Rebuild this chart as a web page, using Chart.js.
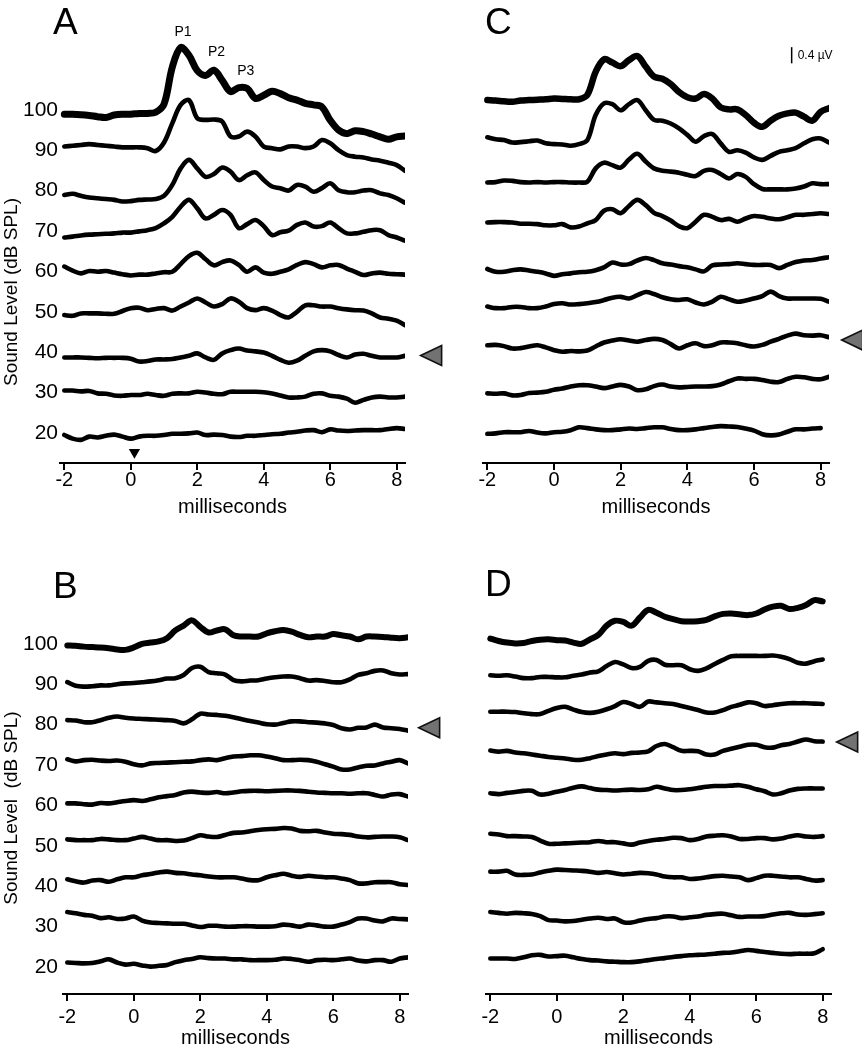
<!DOCTYPE html>
<html lang="en">
<head>
<meta charset="UTF-8">
<title>ABR traces</title>
<script src="https://cdn.jsdelivr.net/npm/chart.js"></script>
<style>
  body { margin: 0; background: #fff; }
  #wrap { position: relative; width: 862px; height: 1050px; overflow: hidden; }
  canvas { position: absolute; }
</style>
</head>
<body>
<div id="wrap">
  <canvas id="chartA" width="450" height="525" style="left:0;top:0"></canvas>
  <canvas id="chartB" width="450" height="525" style="left:0;top:525px"></canvas>
  <canvas id="chartC" width="431" height="525" style="left:431px;top:0"></canvas>
  <canvas id="chartD" width="431" height="525" style="left:431px;top:525px"></canvas>
</div>
<script>
// time axis (ms) shared by all traces
const times = [-2, -1.75, -1.5, -1.25, -1, -0.75, -0.5, -0.25,
  0, 0.25, 0.5, 0.75, 1, 1.25, 1.5, 1.75,
  2, 2.25, 2.5, 2.75, 3, 3.25, 3.5, 3.75,
  4, 4.25, 4.5, 4.75, 5, 5.25, 5.5, 5.75,
  6, 6.25, 6.5, 6.75, 7, 7.25, 7.5, 7.75,
  8, 8.25];
const xTicks = [-2, 0, 2, 4, 6, 8];
// sound levels, bottom trace first
const levels = ['20', '30', '40', '50', '60', '70', '80', '90', '100'];
// threshold level marked by the grey arrow
const thresholdA = '40', thresholdB = '80', thresholdC = '40', thresholdD = '70';
const peakNames = ['P1', 'P2', 'P3'];
const peakTimes = [1.57, 2.58, 3.46];
const stimulusTime = 0.11;
const scaleBarUV = 0.4;

// traces in uV, relative to each level's baseline
const a100 = [-0.11,-0.11,-0.12,-0.14,-0.17,-0.19,-0.13,-0.11,
  -0.11,-0.09,-0.09,-0.06,0.14,1.06,1.54,1.35,
  0.97,0.85,0.98,0.73,0.45,0.55,0.53,0.28,
  0.36,0.46,0.40,0.30,0.24,0.16,0.12,0.07,
  -0.26,-0.50,-0.59,-0.52,-0.54,-0.60,-0.67,-0.73,
  -0.67,-0.65];
const a90 = [0.09,0.11,0.13,0.15,0.13,0.11,0.09,0.07,
  0.07,0.07,0.05,-0.02,0.19,0.67,1.12,1.24,
  0.79,0.75,0.76,0.71,0.34,0.34,0.46,0.34,
  0.09,0.05,0.02,0.09,0.09,0.05,0.09,0.25,
  0.17,0.0,-0.12,-0.16,-0.18,-0.23,-0.26,-0.31,
  -0.37,-0.51];
const a80 = [-0.11,-0.08,-0.13,-0.17,-0.19,-0.21,-0.23,-0.27,
  -0.26,-0.23,-0.22,-0.21,-0.13,0.14,0.55,0.76,
  0.55,0.34,0.41,0.57,0.47,0.26,0.38,0.45,
  0.26,0.10,0.06,0.0,0.14,0.10,-0.03,0.06,
  0.18,0.01,-0.04,-0.04,0.0,0.01,-0.07,-0.11,
  -0.19,-0.30];
const a70 = [-0.16,-0.14,-0.11,-0.09,-0.08,-0.07,-0.06,-0.04,
  -0.04,-0.01,0.02,0.07,0.19,0.35,0.60,0.77,
  0.56,0.31,0.40,0.52,0.40,0.07,0.17,0.27,
  0.12,-0.10,-0.03,0.01,0.15,0.21,0.11,0.12,
  0.21,0.07,-0.06,-0.06,-0.02,0.02,0.02,-0.10,
  -0.16,-0.24];
const a60 = [0.12,0.02,-0.05,0.01,-0.01,0.01,-0.03,-0.07,
  -0.10,-0.08,-0.08,-0.05,-0.02,-0.01,0.18,0.38,
  0.46,0.30,0.15,0.23,0.27,0.16,-0.01,0.10,
  -0.03,-0.06,-0.01,0.05,0.16,0.23,0.18,0.10,
  0.15,0.16,0.07,-0.01,-0.09,-0.05,-0.03,-0.06,
  -0.07,-0.08];
const a50 = [-0.08,-0.10,-0.04,-0.04,-0.04,-0.05,-0.05,0.02,
  0.09,0.10,0.04,0.07,0.09,0.03,0.13,0.23,
  0.33,0.23,0.13,0.19,0.33,0.25,0.09,0.04,
  0.09,0.03,-0.08,-0.14,0.0,0.16,0.16,0.13,
  0.13,0.09,0.06,0.04,0.03,-0.04,-0.14,-0.17,
  -0.22,-0.33];
const a40 = [-0.13,-0.13,-0.13,-0.14,-0.15,-0.14,-0.14,-0.14,
  -0.16,-0.23,-0.22,-0.18,-0.18,-0.17,-0.13,-0.09,
  -0.03,-0.13,-0.19,-0.03,0.05,0.09,0.04,0.02,
  -0.01,-0.09,-0.19,-0.26,-0.21,-0.09,0.02,0.05,
  0.02,-0.07,-0.13,-0.06,-0.04,-0.09,-0.13,-0.13,
  -0.13,-0.09];
const a30 = [0.05,0.05,0.03,0.04,-0.02,-0.03,-0.07,-0.08,
  -0.06,-0.06,-0.03,-0.06,-0.08,-0.03,-0.02,-0.02,
  0.02,0.0,-0.03,-0.04,0.02,0.02,0.02,0.02,
  0.01,-0.02,-0.07,-0.12,-0.12,-0.10,-0.03,-0.02,
  -0.08,-0.10,-0.15,-0.25,-0.18,-0.12,-0.10,-0.12,
  -0.12,-0.10];
const a20 = [-0.05,-0.14,-0.17,-0.09,-0.11,-0.07,-0.04,-0.09,
  -0.14,-0.09,-0.07,-0.07,-0.05,-0.02,-0.02,-0.01,
  0.01,-0.05,-0.04,-0.05,-0.09,-0.10,-0.07,-0.07,
  -0.05,-0.03,-0.02,0.01,0.03,0.06,0.07,0.02,
  0.09,0.06,0.05,0.06,0.07,0.07,0.07,0.10,
  0.12,0.10];

const c100 = [0.24,0.23,0.21,0.20,0.23,0.24,0.25,0.26,
  0.28,0.27,0.26,0.26,0.37,0.94,1.25,1.17,
  1.08,1.23,1.33,1.07,0.82,0.77,0.64,0.44,
  0.31,0.28,0.39,0.28,0.06,0.01,0.01,-0.13,
  -0.32,-0.42,-0.27,-0.15,-0.09,-0.07,-0.17,-0.27,
  -0.05,0.04];
const c90 = [0.32,0.27,0.25,0.19,0.20,0.22,0.24,0.17,
  0.15,0.14,0.11,0.15,0.25,0.87,1.16,1.14,
  0.99,1.14,1.24,0.99,0.75,0.73,0.66,0.54,
  0.38,0.21,0.35,0.40,0.17,-0.04,0.0,-0.06,
  -0.18,-0.24,-0.14,-0.04,0.0,0.05,0.17,0.27,
  0.29,0.19];
const c80 = [0.20,0.21,0.25,0.24,0.21,0.20,0.21,0.20,
  0.21,0.21,0.20,0.20,0.22,0.55,0.69,0.63,
  0.57,0.77,0.91,0.72,0.55,0.49,0.47,0.44,
  0.39,0.36,0.49,0.51,0.41,0.30,0.41,0.34,
  0.16,0.04,0.03,0.03,0.03,0.05,0.10,0.18,
  0.16,0.16];
const c70 = [0.21,0.22,0.22,0.21,0.18,0.18,0.17,0.14,
  0.14,0.17,0.09,0.11,0.19,0.27,0.50,0.54,
  0.44,0.62,0.77,0.64,0.45,0.37,0.26,0.12,
  0.07,0.23,0.40,0.35,0.27,0.30,0.23,0.31,
  0.37,0.35,0.31,0.29,0.34,0.40,0.40,0.42,
  0.44,0.42];
const c60 = [0.06,-0.01,-0.01,0.03,0.05,0.02,-0.01,-0.05,
  -0.11,-0.07,-0.05,-0.02,-0.01,0.03,0.10,0.22,
  0.17,0.18,0.27,0.33,0.28,0.20,0.17,0.13,
  0.10,0.05,0.0,0.15,0.17,0.18,0.20,0.18,
  0.16,0.16,0.16,0.08,0.16,0.23,0.27,0.28,
  0.32,0.35];
const c50 = [0.13,0.09,0.09,0.12,0.12,0.09,0.09,0.13,
  0.19,0.21,0.18,0.19,0.21,0.24,0.29,0.35,
  0.37,0.33,0.41,0.49,0.44,0.36,0.31,0.29,
  0.31,0.23,0.18,0.25,0.37,0.31,0.25,0.28,
  0.33,0.39,0.50,0.39,0.33,0.33,0.33,0.33,
  0.32,0.25];
const c40 = [0.17,0.18,0.15,0.09,0.10,0.14,0.17,0.12,
  0.05,0.01,0.03,0.02,0.04,0.14,0.24,0.29,
  0.32,0.29,0.26,0.30,0.33,0.30,0.20,0.09,
  0.17,0.22,0.15,0.17,0.24,0.24,0.22,0.17,
  0.14,0.18,0.26,0.33,0.41,0.46,0.42,0.41,
  0.42,0.37];
const c30 = [-0.02,-0.03,-0.02,-0.07,-0.06,-0.01,0.0,0.02,
  0.07,0.10,0.15,0.18,0.18,0.15,0.11,0.15,
  0.19,0.15,0.06,0.08,0.16,0.20,0.15,0.13,
  0.14,0.15,0.15,0.16,0.20,0.28,0.35,0.34,
  0.34,0.31,0.27,0.26,0.34,0.39,0.38,0.34,
  0.33,0.39];
const c20 = [-0.02,-0.01,0.02,0.02,0.02,0.05,0.01,-0.01,
  0.02,0.03,0.07,0.14,0.12,0.09,0.07,0.07,
  0.09,0.11,0.10,0.12,0.14,0.14,0.10,0.07,
  0.07,0.09,0.12,0.15,0.17,0.16,0.15,0.11,
  0.06,-0.03,-0.06,-0.04,0.03,0.09,0.09,0.11,
  0.12,null];

const b100 = [-0.04,-0.05,-0.07,-0.08,-0.09,-0.11,-0.14,-0.15,
  -0.09,0.0,0.03,0.06,0.14,0.33,0.45,0.58,
  0.42,0.28,0.33,0.36,0.21,0.18,0.18,0.18,
  0.26,0.31,0.34,0.30,0.22,0.16,0.18,0.18,
  0.24,0.21,0.18,0.11,0.18,0.18,0.17,0.15,
  0.14,0.16];
const b90 = [0.05,-0.04,-0.06,-0.05,-0.03,-0.03,0.0,0.02,
  0.03,0.05,0.07,0.10,0.14,0.15,0.23,0.40,
  0.43,0.30,0.27,0.24,0.10,0.07,0.09,0.10,
  0.14,0.17,0.19,0.19,0.15,0.09,0.10,0.08,
  0.05,0.05,0.12,0.23,0.27,0.33,0.34,0.27,
  0.24,0.25];
const b80 = [0.11,0.10,0.06,0.06,0.11,0.17,0.20,0.17,
  0.15,0.14,0.13,0.12,0.11,0.09,0.03,0.13,
  0.27,0.25,0.24,0.22,0.18,0.13,0.09,0.05,
  0.01,0.0,0.04,0.08,0.08,0.06,0.05,0.03,
  -0.01,-0.09,-0.12,-0.08,-0.07,0.0,-0.07,-0.09,
  -0.11,-0.15];
const b70 = [0.14,0.09,0.12,0.13,0.11,0.10,0.11,0.08,
  0.02,-0.01,0.04,0.05,0.06,0.07,0.08,0.09,
  0.12,0.14,0.12,0.17,0.21,0.22,0.24,0.24,
  0.21,0.17,0.12,0.12,0.13,0.12,0.08,0.02,
  -0.04,-0.11,-0.11,-0.06,-0.02,-0.01,0.04,0.08,
  0.12,0.04];
const b60 = [0.05,0.05,0.03,0.02,0.06,0.05,0.08,0.11,
  0.13,0.11,0.15,0.20,0.23,0.26,0.32,0.34,
  0.32,0.31,0.33,0.30,0.32,0.35,0.36,0.36,
  0.35,0.36,0.37,0.37,0.36,0.34,0.32,0.31,
  0.30,0.30,0.29,0.30,0.30,0.26,0.22,0.27,
  0.28,0.22];
const b50 = [0.16,0.14,0.14,0.14,0.17,0.16,0.14,0.14,
  0.18,0.22,0.18,0.14,0.14,0.12,0.13,0.19,
  0.26,0.23,0.22,0.27,0.32,0.33,0.36,0.39,
  0.41,0.42,0.44,0.43,0.37,0.36,0.37,0.33,
  0.30,0.29,0.27,0.23,0.21,0.22,0.23,0.23,
  0.21,0.14];
const b40 = [0.17,0.12,0.09,0.14,0.15,0.11,0.17,0.22,
  0.22,0.27,0.30,0.34,0.36,0.33,0.32,0.29,
  0.27,0.24,0.22,0.22,0.22,0.19,0.15,0.15,
  0.22,0.27,0.31,0.26,0.23,0.26,0.24,0.22,
  0.22,0.19,0.15,0.07,0.07,0.10,0.10,0.10,
  0.05,0.03];
const b30 = [0.36,0.33,0.29,0.27,0.21,0.23,0.19,0.20,
  0.25,0.15,0.10,0.09,0.08,0.07,0.07,0.03,
  -0.01,0.02,0.02,0.0,0.0,0.01,0.01,0.0,
  0.0,0.01,0.05,0.03,0.0,0.05,0.03,0.0,
  0.0,0.05,0.11,0.20,0.20,0.15,0.13,0.20,
  0.19,0.18];
const b20 = [0.11,0.10,0.09,0.10,0.14,0.19,0.11,0.06,
  0.08,0.04,0.01,0.03,0.05,0.12,0.17,0.20,
  0.24,0.22,0.21,0.21,0.19,0.19,0.17,0.17,
  0.17,0.18,0.21,0.20,0.17,0.13,0.17,0.18,
  0.17,0.19,0.21,0.16,0.14,0.17,0.17,0.13,
  0.21,0.24];

const d100 = [0.13,0.07,0.03,0.01,0.02,0.07,0.10,0.11,
  0.09,0.08,0.03,0.0,0.11,0.22,0.45,0.57,
  0.54,0.45,0.65,0.84,0.77,0.67,0.61,0.56,
  0.55,0.56,0.59,0.68,0.74,0.75,0.73,0.71,
  0.75,0.85,0.92,0.94,0.86,0.89,0.96,1.08,
  1.05,null];
const d90 = [0.22,0.21,0.22,0.19,0.15,0.15,0.18,0.18,
  0.17,0.17,0.21,0.24,0.29,0.32,0.45,0.55,
  0.49,0.40,0.43,0.58,0.60,0.48,0.47,0.47,
  0.37,0.33,0.39,0.50,0.60,0.69,0.70,0.70,
  0.70,0.70,0.71,0.68,0.62,0.53,0.51,0.57,
  0.61,null];
const d80 = [0.32,0.32,0.32,0.31,0.28,0.26,0.26,0.34,
  0.41,0.44,0.37,0.31,0.29,0.32,0.38,0.46,
  0.56,0.51,0.44,0.57,0.55,0.53,0.51,0.46,
  0.41,0.36,0.30,0.30,0.36,0.44,0.49,0.55,
  0.53,0.46,0.48,0.51,0.53,0.53,0.53,0.52,
  0.51,null];
const d70 = [0.36,0.33,0.35,0.31,0.29,0.26,0.23,0.20,
  0.18,0.16,0.13,0.13,0.17,0.22,0.26,0.29,
  0.27,0.30,0.31,0.34,0.47,0.52,0.44,0.35,
  0.35,0.34,0.26,0.26,0.35,0.40,0.45,0.50,
  0.50,0.44,0.43,0.49,0.52,0.58,0.63,0.59,
  0.58,null];
const d60 = [0.30,0.28,0.31,0.33,0.36,0.36,0.27,0.29,
  0.34,0.38,0.44,0.47,0.43,0.39,0.38,0.37,
  0.38,0.39,0.38,0.40,0.46,0.42,0.38,0.38,
  0.40,0.43,0.46,0.48,0.48,0.49,0.50,0.46,
  0.40,0.35,0.27,0.30,0.37,0.41,0.42,0.42,
  0.42,null];
const d50 = [0.30,0.28,0.24,0.24,0.23,0.22,0.13,0.05,
  0.05,0.06,0.07,0.08,0.09,0.12,0.09,0.09,
  0.06,0.03,0.08,0.12,0.15,0.17,0.20,0.19,
  0.14,0.17,0.23,0.25,0.26,0.23,0.17,0.17,
  0.19,0.19,0.16,0.18,0.23,0.26,0.23,0.22,
  0.24,null];
const d40 = [0.36,0.36,0.38,0.29,0.28,0.29,0.34,0.38,
  0.41,0.40,0.39,0.38,0.36,0.33,0.35,0.32,
  0.29,0.31,0.33,0.32,0.29,0.24,0.22,0.22,
  0.18,0.19,0.22,0.25,0.26,0.24,0.22,0.15,
  0.20,0.26,0.26,0.24,0.22,0.22,0.18,0.14,
  0.15,null];
const d30 = [0.36,0.34,0.32,0.34,0.33,0.31,0.26,0.16,
  0.15,0.13,0.14,0.17,0.20,0.22,0.19,0.20,
  0.11,0.10,0.15,0.19,0.21,0.25,0.25,0.21,
  0.23,0.25,0.29,0.31,0.32,0.28,0.24,0.25,
  0.25,0.26,0.30,0.33,0.34,0.30,0.29,0.31,
  0.33,null];
const d20 = [0.21,0.21,0.21,0.20,0.24,0.29,0.30,0.26,
  0.27,0.28,0.24,0.20,0.17,0.16,0.14,0.13,
  0.12,0.12,0.14,0.17,0.20,0.22,0.25,0.27,
  0.29,0.30,0.31,0.33,0.35,0.36,0.39,0.42,
  0.40,0.37,0.35,0.33,0.32,0.33,0.33,0.34,
  0.44,null];

const FONT = '"Liberation Sans", Arial, sans-serif';
Chart.defaults.font.family = FONT;
Chart.defaults.color = '#000';

// letters, axis title, peak names, scale bar label, threshold arrow
const panelText = {
  id: 'panelText',
  afterDraw(chart, args, o) {
    const ctx = chart.ctx;
    const xs = chart.scales.x, ys = chart.scales.y;
    ctx.save();
    ctx.fillStyle = '#000';
    ctx.font = '37px ' + FONT;
    ctx.textAlign = 'left';
    ctx.textBaseline = 'alphabetic';
    ctx.fillText(o.letter, o.letterX, o.letterY);
    if (o.yTitle) {
      ctx.save();
      ctx.translate(o.yTitleX, o.yTitleY);
      ctx.rotate(-Math.PI / 2);
      ctx.font = '19px ' + FONT;
      ctx.textAlign = 'center';
      ctx.textBaseline = 'middle';
      ctx.fillText(o.yTitle, 0, 0);
      ctx.restore();
    }
    if (o.peakY) {
      ctx.font = '14px ' + FONT;
      ctx.textAlign = 'center';
      ctx.textBaseline = 'middle';
      peakNames.forEach((n, i) => {
        ctx.fillText(n, xs.getPixelForValue(peakTimes[i]), ys.getPixelForValue(o.peakY[i]));
      });
    }
    if (o.bar) {
      ctx.font = '12px ' + FONT;
      ctx.textAlign = 'left';
      ctx.textBaseline = 'middle';
      ctx.fillText(scaleBarUV + ' µV', xs.getPixelForValue(o.bar.x) + 6,
        ys.getPixelForValue(o.bar.y + scaleBarUV / 2));
    }
    if (o.marker) {
      // left-pointing arrow, tip at the marker position
      const tx = xs.getPixelForValue(o.marker.x);
      const ty = ys.getPixelForValue(levels.indexOf(o.marker.level) + o.marker.nudge);
      ctx.beginPath();
      ctx.moveTo(tx, ty);
      ctx.lineTo(tx + 21, ty - 10);
      ctx.lineTo(tx + 21, ty + 10);
      ctx.closePath();
      ctx.fillStyle = '#727272';
      ctx.fill();
      ctx.lineWidth = 1.6;
      ctx.lineJoin = 'miter';
      ctx.strokeStyle = '#111';
      ctx.stroke();
    }
    ctx.restore();
  }
};

function makeChart(p) {
  const datasets = p.traces.map((vals, k) => ({
    label: levels[k] + ' dB',
    data: times.map((t, i) => ({x: t, y: vals[i] === null ? null : vals[i] + k})),
    borderColor: '#000',
    borderWidth: k === levels.length - 1 ? p.thick : 4.6,
    pointRadius: 0,
    tension: 0.35,
    borderCapStyle: 'round',
    borderJoinStyle: 'round'
  }));
  if (p.stim) {
    datasets.push({
      label: 'stimulus',
      data: [{x: stimulusTime, y: -0.48}],
      showLine: false,
      pointStyle: 'triangle',
      pointRotation: 180,
      pointRadius: 6.5,
      pointBackgroundColor: '#000',
      pointBorderColor: '#000',
      pointBorderWidth: 0
    });
  }
  if (p.bar) {
    datasets.push({
      label: 'scale',
      data: [{x: p.bar.x, y: p.bar.y}, {x: p.bar.x, y: p.bar.y + scaleBarUV}],
      borderColor: '#000',
      borderWidth: 1.5,
      pointRadius: 0,
      tension: 0
    });
  }

  new Chart(document.getElementById(p.id), {
    type: 'line',
    data: { datasets },
    plugins: [panelText],
    options: {
      responsive: false,
      animation: false,
      layout: { padding: p.pad },
      plugins: {
        legend: { display: false },
        tooltip: { enabled: false },
        panelText: p.text
      },
      scales: {
        x: {
          type: 'linear',
          min: -2.13,
          max: 8.25,
          afterBuildTicks: s => { s.ticks = xTicks.map(v => ({value: v})); },
          afterFit: s => { s.height = p.xAxisH; },
          ticks: {
            font: { size: 20, lineHeight: 1 },
            padding: p.tickPad,
            autoSkip: false,
            maxRotation: 0,
            callback: v => String(v)
          },
          grid: { display: true, drawOnChartArea: false, drawTicks: true, tickLength: 7, color: '#000', lineWidth: 2 },
          border: { display: true, color: '#000', width: 2 },
          title: {
            display: true,
            text: 'milliseconds',
            font: { size: 20, lineHeight: 1.2 },
            padding: { top: 0, bottom: p.titlePad }
          }
        },
        y: {
          type: 'linear',
          display: p.yLabels,
          min: p.yMin,
          max: p.yMax,
          afterBuildTicks: s => { s.ticks = levels.map((l, k) => ({value: k})); },
          afterFit: s => { s.width = p.yAxisW; },
          ticks: {
            font: { size: 21 },
            padding: p.yPad,
            autoSkip: false,
            callback: v => levels[v]
          },
          grid: { display: false, drawTicks: false },
          border: { display: false }
        }
      }
    }
  });
}

makeChart({
  id: 'chartA', traces: [a20, a30, a40, a50, a60, a70, a80, a90, a100], thick: 7,
  pad: { left: 0, right: 45, top: 30, bottom: 0 }, yLabels: true, yAxisW: 60, yPad: 2,
  xAxisH: 62, tickPad: 0, titlePad: 6, yMin: -0.743, yMax: 9.975, stim: true,
  text: { letter: 'A', letterX: 53, letterY: 34, yTitle: 'Sound Level (dB SPL)', yTitleX: 12, yTitleY: 292,
    peakY: [9.93, 9.43, 8.96], marker: { x: 8.72, level: thresholdA, nudge: -0.08 } }
});
makeChart({
  id: 'chartC', traces: [c20, c30, c40, c50, c60, c70, c80, c90, c100], thick: 6.5,
  pad: { left: 52, right: 33, top: 30, bottom: 0 }, yLabels: false, yAxisW: 0, yPad: 0,
  xAxisH: 62, tickPad: 0, titlePad: 6, yMin: -0.743, yMax: 9.975,
  bar: { x: 7.13, y: 9.15 },
  text: { letter: 'C', letterX: 54, letterY: 34, bar: { x: 7.13, y: 9.15 },
    marker: { x: 8.63, level: thresholdC, nudge: 0.3 } }
});
makeChart({
  id: 'chartB', traces: [b20, b30, b40, b50, b60, b70, b80, b90, b100], thick: 6,
  pad: { left: 0, right: 42, top: 30, bottom: 0 }, yLabels: true, yAxisW: 63, yPad: 5,
  xAxisH: 56, tickPad: 6, titlePad: 0, yMin: -0.668, yMax: 10.198,
  text: { letter: 'B', letterX: 53, letterY: 73, yTitle: 'Sound Level  (dB SPL)', yTitleX: 12, yTitleY: 283,
    marker: { x: 8.57, level: thresholdB, nudge: -0.08 } }
});
makeChart({
  id: 'chartD', traces: [d20, d30, d40, d50, d60, d70, d80, d90, d100], thick: 6,
  pad: { left: 55, right: 31, top: 30, bottom: 0 }, yLabels: false, yAxisW: 0, yPad: 0,
  xAxisH: 56, tickPad: 6, titlePad: 0, yMin: -0.668, yMax: 10.198,
  text: { letter: 'D', letterX: 54, letterY: 71,
    marker: { x: 8.42, level: thresholdD, nudge: 0.57 } }
});
</script>
</body>
</html>
